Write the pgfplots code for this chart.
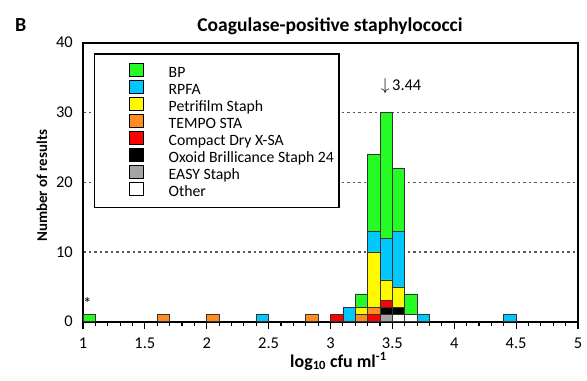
\documentclass[border=0pt]{standalone}
\usepackage{fontspec}
\setmainfont{Carlito}
\usepackage{pgfplots}
\pgfplotsset{compat=1.18}
\usepackage{pgfplotstable}
\usetikzlibrary{calc}

\definecolor{cBP}{RGB}{36,252,36}
\definecolor{cRPFA}{RGB}{0,200,255}
\definecolor{cPetri}{RGB}{255,250,0}
\definecolor{cTempo}{RGB}{255,140,30}
\definecolor{cCD}{RGB}{255,0,0}
\definecolor{cOxoid}{RGB}{0,0,0}
\definecolor{cEasy}{RGB}{165,165,165}
\definecolor{cOther}{RGB}{255,255,255}

% Counts per 0.1 log10 bin (x = bin centre), one column per method
\pgfplotstableread{
x     other easy oxoid cd tempo petri rpfa bp
1.05  0     0    0     0  0     0     0    1
1.65  0     0    0     0  1     0     0    0
2.05  0     0    0     0  1     0     0    0
2.45  0     0    0     0  0     0     1    0
2.85  0     0    0     0  1     0     0    0
3.05  0     0    0     1  0     0     0    0
3.15  0     0    0     0  0     0     2    0
3.25  0     0    0     0  1     1     0    2
3.35  0     0    0     1  1     8     3    11
3.45  0     1    1     1  0     3     6    18
3.55  1     0    1     0  0     3     8    9
3.65  1     0    0     0  0     0     0    3
3.75  0     0    0     0  0     0     1    0
4.45  0     0    0     0  0     0     1    0
}\cpstab

\begin{document}
\begin{tikzpicture}
\begin{axis}[
  scale only axis, width=495bp, height=279bp,
  xmin=1, xmax=5, ymin=0, ymax=40,
  ybar stacked, bar width=0.1,
  xtick={1,1.5,...,5}, minor x tick num=4,
  ytick={0,10,20,30,40},
  xtick pos=bottom, ytick pos=left,
  tick align=outside,
  major tick length=7bp, minor tick length=4bp,
  x tick style={line width=1.2bp, black},
  y tick style={draw=none},
  axis line style={line width=1.6bp},
  ymajorgrids,
  grid style={dash pattern=on 2.5bp off 3bp, line width=1.1bp, black!65},
  /pgf/number format/assume math mode=true,
  tick label style={font=\fontsize{16.5}{19}\selectfont},
  xticklabel style={inner sep=2bp, yshift=-7bp},
  yticklabel style={inner sep=2bp, xshift=-1bp},
  xlabel={\bfseries log\textsubscript{10} cfu ml\textsuperscript{-1}},
  xlabel style={font=\fontsize{18}{21}\selectfont, at={(axis description cs:0.516,0)}, anchor=base, yshift=-45.5bp},
  ylabel={\bfseries Number of results},
  ylabel style={font=\fontsize{15}{18}\selectfont, at={(axis description cs:-0.0727,0.4875)}, anchor=base},
  reverse legend,
  legend cell align=left,
  legend style={at={(axis description cs:0.0218,0.9613)}, anchor=north west,
    draw=black, line width=1.6bp, fill=white,
    font=\fontsize{15.8}{18}\selectfont,
    inner xsep=5bp, inner ysep=8.6bp, row sep=0.2bp,
    nodes={inner sep=0.1bp, text height=14.5bp, text depth=2bp}},
  legend image code/.code={%
    \path (0bp,0bp) (68.4bp,0bp);
    \draw[#1, draw=black, line width=0.6bp] (29.5bp,-5.25bp) rectangle (43.5bp,8.15bp);},
  every axis plot/.append style={draw=black!80, line width=0.6bp},
]
\addplot[fill=cOther] table[x=x, y=other]{\cpstab};
\addplot[fill=cEasy]  table[x=x, y=easy]{\cpstab};
\addplot[fill=cOxoid] table[x=x, y=oxoid]{\cpstab};
\addplot[fill=cCD]    table[x=x, y=cd]{\cpstab};
\addplot[fill=cTempo] table[x=x, y=tempo]{\cpstab};
\addplot[fill=cPetri] table[x=x, y=petri]{\cpstab};
\addplot[fill=cRPFA]  table[x=x, y=rpfa]{\cpstab};
\addplot[fill=cBP]    table[x=x, y=bp]{\cpstab};
\legend{Other, EASY Staph, Oxoid Brillicance Staph 24, Compact Dry X-SA, TEMPO STA, Petrifilm Staph, RPFA, BP}

% median marker and the out-of-range note
\node[anchor=west, inner sep=0pt, font=\fontsize{16.5}{19}\selectfont] at (axis cs:3.405,33.7) {$\downarrow$\,3.44};
\node[inner sep=0pt, font=\fontsize{17}{20}\selectfont] at (axis cs:1.035,2.6) {*};
\end{axis}
\node[anchor=base, inner sep=0pt, font=\fontsize{19.6}{23}\selectfont\bfseries]
  at ($(current axis.north)+(-0.5bp,11.7bp)$) {Coagulase-positive staphylococci};
\node[anchor=base west, inner sep=0pt, font=\fontsize{20}{24}\selectfont\bfseries]
  at ($(current axis.north west)+(-68bp,11bp)$) {B};
\pgfresetboundingbox
\path ($(current axis.south west)+(-83bp,-59bp)$) rectangle ($(current axis.north east)+(9bp,42.7bp)$);
\end{tikzpicture}
\end{document}
